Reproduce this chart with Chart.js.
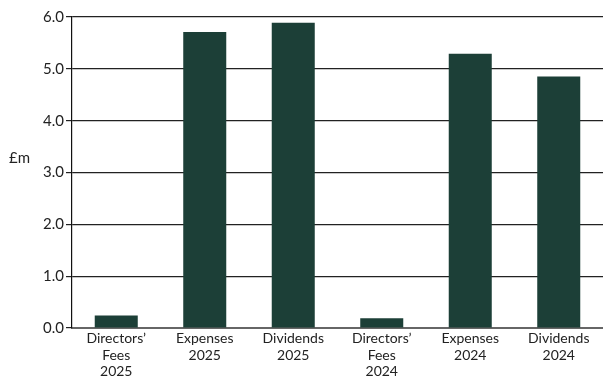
<!DOCTYPE html>
<html lang="en">
<head>
    <meta charset="UTF-8">
    <title>Costs and Dividends</title>
    <script src="https://cdn.jsdelivr.net/npm/chart.js@4"></script>
    <style>
        html, body {
            margin: 0;
            padding: 0;
            background: #ffffff;
        }
        #wrap {
            position: relative;
            width: 603px;
            height: 379px;
        }
    </style>
</head>
<body>

<div id="wrap">
    <canvas id="costChart" width="603" height="379"></canvas>
</div>

<script>
    // Category labels (one line per array entry)
    const categories = [
        ['Directors’', 'Fees', '2025'],
        ['Expenses', '2025'],
        ['Dividends', '2025'],
        ['Directors’', 'Fees', '2024'],
        ['Expenses', '2024'],
        ['Dividends', '2024']
    ];
    // Amounts in £m
    const amounts = [0.24, 5.71, 5.89, 0.19, 5.29, 4.85];
    const yTicks = [0, 1, 2, 3, 4, 5, 6];
    const axisTitle = '£m';

    const barColour = '#1c3f37';
    const fontFamily = 'Lato, "Open Sans", sans-serif';

    // y axis title sits level, above the middle tick, instead of rotated
    const levelTitle = {
        id: 'levelTitle',
        afterDraw(chart) {
            const ctx = chart.ctx;
            const area = chart.chartArea;
            ctx.save();
            ctx.font = '15px ' + fontFamily;
            ctx.fillStyle = '#222222';
            ctx.textAlign = 'left';
            ctx.textBaseline = 'middle';
            ctx.fillText(axisTitle, 9, (area.top + area.bottom) / 2 - 14);
            ctx.restore();
        }
    };

    const ctx = document.getElementById('costChart').getContext('2d');
    new Chart(ctx, {
        type: 'bar',
        data: {
            labels: categories,
            datasets: [{
                data: amounts,
                backgroundColor: barColour,
                borderWidth: 0,
                barPercentage: 0.486,
                categoryPercentage: 1.0
            }]
        },
        options: {
            responsive: false,
            animation: false,
            layout: {
                padding: { top: 17, right: 0, bottom: 0, left: 0 }
            },
            plugins: {
                legend: { display: false },
                tooltip: { enabled: false }
            },
            scales: {
                x: {
                    grid: { display: false, drawTicks: false },
                    border: { color: '#666666', width: 2 },
                    ticks: {
                        color: '#222222',
                        padding: 2,
                        maxRotation: 0,
                        autoSkip: false,
                        font: { family: fontFamily, size: 14, lineHeight: 1.19 }
                    },
                    afterFit(scale) { scale.height = 51; }
                },
                y: {
                    min: 0,
                    max: 6,
                    afterBuildTicks(scale) {
                        scale.ticks = yTicks.map(v => ({ value: v }));
                    },
                    grid: {
                        color: '#222222',
                        lineWidth: 1.2,
                        tickLength: 6,
                        drawTicks: true
                    },
                    border: { color: '#111111', width: 1.2 },
                    ticks: {
                        color: '#222222',
                        padding: 2,
                        callback: v => v.toFixed(1),
                        font: { family: fontFamily, size: 15 }
                    },
                    afterFit(scale) { scale.width = 72; }
                }
            }
        },
        plugins: [levelTitle]
    });
</script>

</body>
</html>
